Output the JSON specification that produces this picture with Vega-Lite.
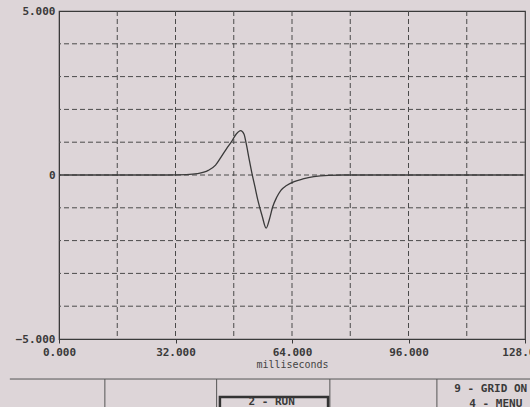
{
  "$schema": "https://vega.github.io/schema/vega-lite/v6.json",
  "width": 466,
  "height": 328,
  "autosize": "none",
  "padding": {"left": 59, "top": 11, "right": 5, "bottom": 68},
  "background": "#ddd5d8",
  "config": {
    "view": {"stroke": "#3a3a3a", "strokeWidth": 1.2},
    "font": "DejaVu Sans Mono"
  },
  "datasets": {
    "trace": [
      {"t": 0, "v": 0}, {"t": 20, "v": 0}, {"t": 30, "v": 0}, {"t": 35, "v": 0.01},
      {"t": 38, "v": 0.04}, {"t": 41, "v": 0.14}, {"t": 43, "v": 0.3}, {"t": 44.6, "v": 0.56},
      {"t": 46, "v": 0.8}, {"t": 47.3, "v": 1.0}, {"t": 48.7, "v": 1.25}, {"t": 49.9, "v": 1.35},
      {"t": 50.8, "v": 1.25}, {"t": 51.4, "v": 0.97}, {"t": 52.2, "v": 0.5}, {"t": 53, "v": 0.05},
      {"t": 53.8, "v": -0.35}, {"t": 54.6, "v": -0.76}, {"t": 55.8, "v": -1.25}, {"t": 56.9, "v": -1.62},
      {"t": 57.8, "v": -1.35}, {"t": 58.7, "v": -0.97}, {"t": 59.8, "v": -0.68}, {"t": 61, "v": -0.46},
      {"t": 62.5, "v": -0.32}, {"t": 64.6, "v": -0.2}, {"t": 67, "v": -0.12}, {"t": 70, "v": -0.05},
      {"t": 74, "v": -0.01}, {"t": 78, "v": 0}, {"t": 100, "v": 0}, {"t": 127.5, "v": 0}
    ],
    "gridx": [{"t": 16}, {"t": 32}, {"t": 48}, {"t": 64}, {"t": 80}, {"t": 96}, {"t": 112}],
    "gridy": [{"v": -4}, {"v": -3}, {"v": -2}, {"v": -1}, {"v": 0}, {"v": 1}, {"v": 2}, {"v": 3}, {"v": 4}],
    "menuLines": [
      {"t": -13.5, "t2": 130, "v": -6.22, "v2": -6.22},
      {"t": 12.6, "t2": 12.6, "v": -6.22, "v2": -7.3},
      {"t": 43.3, "t2": 43.3, "v": -6.22, "v2": -7.3},
      {"t": 74.4, "t2": 74.4, "v": -6.22, "v2": -7.3},
      {"t": 103.8, "t2": 103.8, "v": -6.22, "v2": -7.3}
    ],
    "menuBox": [{"t": 44.2, "t2": 73.9, "v": -6.77, "v2": -7.4}],
    "menuText": [
      {"t": 58.4, "v": -6.93, "label": "2 - RUN", "align": "center"},
      {"t": 108.6, "v": -6.52, "label": "9 - GRID ON", "align": "left"},
      {"t": 112.7, "v": -6.97, "label": "4 - MENU", "align": "left"}
    ]
  },
  "layer": [
    {
      "data": {"name": "gridx"},
      "mark": {"type": "rule", "color": "#4a4a4a", "strokeDash": [5, 3], "strokeWidth": 1},
      "encoding": {
        "x": {"field": "t", "type": "quantitative", "title": "milliseconds", "scale": {"domain": [0, 128], "nice": false, "zero": false}}
      }
    },
    {
      "data": {"name": "gridy"},
      "mark": {"type": "rule", "color": "#4a4a4a", "strokeDash": [5, 3], "strokeWidth": 1},
      "encoding": {
        "y": {"field": "v", "type": "quantitative", "title": null, "scale": {"domain": [-5, 5], "nice": false}}
      }
    },
    {
      "data": {"name": "trace"},
      "mark": {"type": "line", "color": "#3a3a3a", "strokeWidth": 1.3, "interpolate": "monotone"},
      "encoding": {
        "x": {
          "field": "t", "type": "quantitative", "title": "milliseconds",
          "scale": {"domain": [0, 128], "nice": false, "zero": false},
          "axis": {
            "values": [0, 32, 64, 96, 128], "format": ".3f", "grid": false,
            "title": "milliseconds", "titleFont": "DejaVu Sans Mono", "titleFontSize": 10,
            "titleFontWeight": "normal", "titleColor": "#444", "titlePadding": 2,
            "labelFont": "DejaVu Sans Mono", "labelFontSize": 11, "labelFontWeight": "bold",
            "labelColor": "#3a3a3a", "labelPadding": 3, "labelFlush": false,
            "domainColor": "#3a3a3a", "tickColor": "#3a3a3a", "tickSize": 4, "labelOverlap": false
          }
        },
        "y": {
          "field": "v", "type": "quantitative", "title": null,
          "scale": {"domain": [-5, 5], "nice": false},
          "axis": {
            "values": [-5, 0, 5], "grid": false, "title": null,
            "labelExpr": "datum.value == 0 ? '0' : format(datum.value, '.3f')",
            "labelFont": "DejaVu Sans Mono", "labelFontSize": 11, "labelFontWeight": "bold",
            "labelColor": "#3a3a3a", "labelPadding": 4, "labelFlush": false,
            "domainColor": "#3a3a3a", "ticks": false, "labelOverlap": false
          }
        }
      }
    },
    {
      "data": {"name": "menuLines"},
      "mark": {"type": "rule", "color": "#555", "strokeWidth": 1},
      "encoding": {
        "x": {"field": "t", "type": "quantitative", "title": "milliseconds"},
        "x2": {"field": "t2"},
        "y": {"field": "v", "type": "quantitative", "title": null},
        "y2": {"field": "v2"}
      }
    },
    {
      "data": {"name": "menuBox"},
      "mark": {"type": "rect", "fillOpacity": 0, "stroke": "#333", "strokeWidth": 2.5},
      "encoding": {
        "x": {"field": "t", "type": "quantitative", "title": "milliseconds"},
        "x2": {"field": "t2"},
        "y": {"field": "v", "type": "quantitative", "title": null},
        "y2": {"field": "v2"}
      }
    },
    {
      "data": {"name": "menuText"},
      "transform": [{"filter": "datum.align == 'center'"}],
      "mark": {"type": "text", "align": "center", "baseline": "middle", "font": "DejaVu Sans Mono", "fontSize": 11, "fontWeight": "bold", "color": "#3a3a3a"},
      "encoding": {
        "x": {"field": "t", "type": "quantitative", "title": "milliseconds"},
        "y": {"field": "v", "type": "quantitative", "title": null},
        "text": {"field": "label"}
      }
    },
    {
      "data": {"name": "menuText"},
      "transform": [{"filter": "datum.align == 'left'"}],
      "mark": {"type": "text", "align": "left", "baseline": "middle", "font": "DejaVu Sans Mono", "fontSize": 11, "fontWeight": "bold", "color": "#3a3a3a"},
      "encoding": {
        "x": {"field": "t", "type": "quantitative", "title": "milliseconds"},
        "y": {"field": "v", "type": "quantitative", "title": null},
        "text": {"field": "label"}
      }
    }
  ]
}
